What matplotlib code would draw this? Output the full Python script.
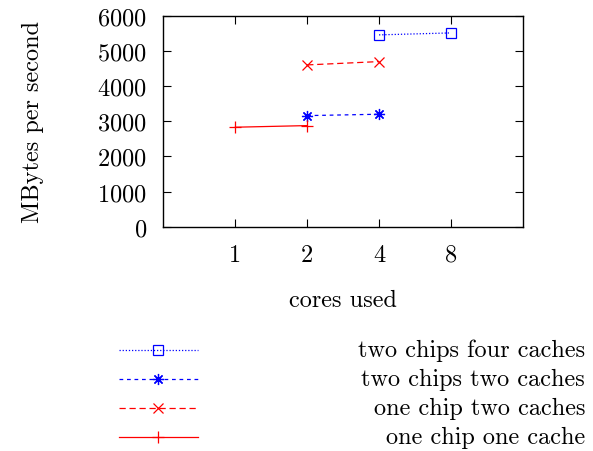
import matplotlib
matplotlib.use('Agg')
import matplotlib.pyplot as plt
from matplotlib.lines import Line2D

# cores used -> categorical positions on the x axis
cores = ['1', '2', '4', '8']

names = ['two chips four caches', 'two chips two caches',
         'one chip two caches', 'one chip one cache']
# (x category index, MB/s)
x_4caches = [3, 4]
y_4caches = [5454, 5510]
x_2chip2c = [2, 3]
y_2chip2c = [3159, 3198]
x_1chip2c = [2, 3]
y_1chip2c = [4600, 4695]
x_1chip1c = [1, 2]
y_1chip1c = [2829, 2875]

plt.rcParams['font.family'] = ['cmr10', 'DejaVu Serif']
plt.rcParams['axes.formatter.use_mathtext'] = True
fs = 17.5

fig = plt.figure(figsize=(5.93, 4.52), dpi=100)
ax = fig.add_axes([0.2757, 0.4962, 0.6058, 0.4669])

styles = [
    dict(color='blue', ls=(0, (1, 1.5)), marker='s', mfc='none', ms=6.5),
    dict(color='blue', ls=(0, (3, 3)), marker=(8, 2, 0), ms=8),
    dict(color='red', ls=(0, (5, 3)), marker='x', ms=7),
    dict(color='red', ls='-', marker='+', ms=8),
]
series = [(x_4caches, y_4caches), (x_2chip2c, y_2chip2c),
          (x_1chip2c, y_1chip2c), (x_1chip1c, y_1chip1c)]
for (xs, ys), st in zip(series, styles):
    ax.plot(xs, ys, lw=0.9, mew=0.9, **st)

ax.set_xlim(0, 5)
ax.set_ylim(0, 6000)
ax.set_xticks([1, 2, 3, 4])
ax.set_xticklabels(cores)
ax.set_yticks(range(0, 6001, 1000))
ax.tick_params(direction='in', top=True, right=True, labelsize=fs, length=6, width=0.8)
ax.tick_params(axis='y', pad=12)
ax.tick_params(axis='x', pad=12)
for s in ax.spines.values():
    s.set_linewidth(1.0)
ax.set_xlabel('cores used', fontsize=fs, labelpad=17)
ax.set_ylabel('MBytes per second', fontsize=fs, labelpad=38)

# key below the plot, samples left, labels right-aligned
ys_key = [351, 380, 409, 438]
for name, st, yk in zip(names, styles, ys_key):
    yf = 1 - yk / 452
    fig.add_artist(Line2D([119 / 593, 198 / 593], [yf, yf], lw=0.9,
                          transform=fig.transFigure, color=st['color'], ls=st['ls']))
    fig.add_artist(Line2D([158 / 593], [yf], lw=0, mew=0.9, transform=fig.transFigure,
                          color=st['color'], marker=st['marker'], mfc=st.get('mfc', st['color']),
                          ms=st['ms']))
    fig.text(585 / 593, yf, name, ha='right', va='center', fontsize=fs)

fig.savefig('out.png', dpi=100)
